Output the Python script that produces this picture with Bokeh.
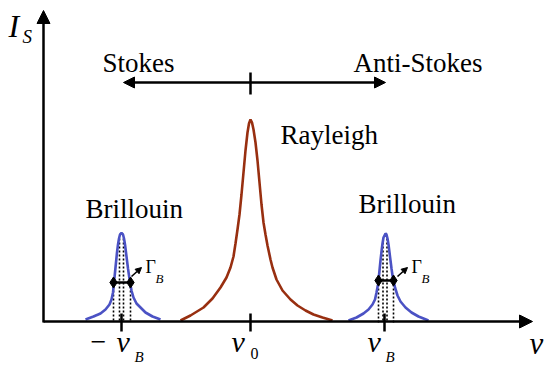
from bokeh.plotting import figure
from bokeh.models import Range1d, Arrow, NormalHead
from bokeh.core.properties import value
from bokeh.embed import file_html
from bokeh.resources import INLINE

# ---- data (schematic units) ----
ray_x = [180, 190, 203, 212, 220, 226, 230, 233, 235, 237, 239, 241, 243, 245, 247, 248.5, 250,
         251.5, 253, 255, 257, 259, 261, 263, 265, 267, 270, 272, 276, 282, 290, 297, 305, 313, 322, 332]
ray_i = [2, 7, 15, 24, 35, 45, 55, 66, 79, 93, 108, 128, 150, 172, 190, 199, 203,
         200, 193, 180, 162, 140, 118, 100, 88, 77, 63, 55, 43, 32, 23, 17, 12, 8, 5, 2]

bl_x = [85, 93, 100, 105, 109, 111, 112.5, 113.5, 114.5, 115.5, 116.5, 117.5, 118.5, 119.5, 121,
        122.5, 123.5, 124.5, 125.5, 126.5, 127.5, 128.5, 129.5, 131, 133, 136, 140, 145, 152, 160]
bl_i = [3, 6, 9, 13, 18, 23, 30, 40, 50, 60, 70, 78, 84, 88, 89.5,
        88, 84, 78, 70, 62, 54, 47, 40, 32, 25, 19, 15, 10, 6, 3]

br_x = [348, 356, 363, 368, 372, 374.5, 376, 377.5, 378, 379, 380, 381, 382, 383, 385,
        386, 387, 388, 389, 390, 391, 392, 393, 394.5, 397, 400, 405, 411, 418, 428]
br_i = [2, 5, 9, 13, 18, 23, 30, 38, 42, 52, 62, 71, 79, 85, 89,
        88, 84, 78, 70, 62, 54, 47, 42, 35, 27, 21, 15, 10, 6, 2]

tick_x = [121, 250, 384]
tick_main = ["ν", "ν", "ν"]
tick_sub = ["B", "0", "B"]

half_left = [113, 130]
half_right = [378, 393]
half_i = [40, 42]
center_left = [119, 123]
center_right = [382.5, 386.5]
center_top = 84

FONT = value("Liberation Serif")
BLACK = "black"

p = figure(width=550, height=370, output_backend="svg", toolbar_location=None,
           x_range=Range1d(0, 550), y_range=Range1d(-48, 322), min_border=0)
p.axis.visible = False
p.grid.visible = False
p.outline_line_color = None
p.background_fill_color = "white"
p.border_fill_color = "white"

# axes with arrows
p.add_layout(Arrow(end=NormalHead(size=13, fill_color=BLACK, line_color=BLACK),
                   x_start=43, y_start=0, x_end=43, y_end=312, line_width=2.5, line_color=BLACK))
p.add_layout(Arrow(end=NormalHead(size=13, fill_color=BLACK, line_color=BLACK),
                   x_start=43, y_start=1, x_end=532, y_end=1, line_width=2.5, line_color=BLACK))

# Stokes / Anti-Stokes double arrow
p.add_layout(Arrow(start=NormalHead(size=11, fill_color=BLACK, line_color=BLACK),
                   end=NormalHead(size=11, fill_color=BLACK, line_color=BLACK),
                   x_start=123, y_start=240, x_end=385, y_end=240, line_width=2.5, line_color=BLACK))
p.segment(x0=[250], y0=[228], x1=[250], y1=[250], line_width=2.5, line_color=BLACK)

# x ticks
p.segment(x0=tick_x, y0=[9] * 3, x1=tick_x, y1=[-9] * 3, line_width=2.5, line_color=BLACK)

# dotted guides
for hx, hi, cx in [(half_left, half_i[0], center_left), (half_right, half_i[1], center_right)]:
    p.segment(x0=hx, y0=[hi, hi], x1=hx, y1=[0, 0], line_width=1.6, line_color=BLACK, line_dash="2 2")
    p.segment(x0=cx, y0=[center_top] * 2, x1=cx, y1=[0, 0], line_width=1.6, line_color=BLACK,
              line_dash="2 2")

# curves
p.line(ray_x, ray_i, line_width=2.6, line_color="#982f10")
p.line(bl_x, bl_i, line_width=2.6, line_color="#4b52c4")
p.line(br_x, br_i, line_width=2.6, line_color="#4b52c4")

# half width markers
for hx, hi in [(half_left, half_i[0]), (half_right, half_i[1])]:
    p.line(hx, [hi, hi], line_width=2.5, line_color=BLACK)
    p.scatter(hx, [hi, hi], marker="diamond", size=11, fill_color=BLACK, line_color=BLACK)

# Gamma arrows
for x0, x1 in [(131, 141), (397, 407)]:
    p.add_layout(Arrow(end=NormalHead(size=6, fill_color=BLACK, line_color=BLACK),
                       x_start=x0, y_start=46, x_end=x1, y_end=55, line_width=1.6, line_color=BLACK))

def txt(x, y, t, size, style="normal", align="left"):
    # the svg text is drawn a little low: lift it by ~0.3 em
    y = y + 0.3 * size
    p.text(x=[x], y=[y], text=[t], text_font=FONT, text_font_size=f"{size}px", text_font_style=style,
           text_baseline="alphabetic", text_align=align, text_color=BLACK)

txt(145, 50, "Γ", 18)
txt(155, 40, "B", 13, "italic")
txt(411, 50, "Γ", 18)
txt(421, 40, "B", 13, "italic")

txt(102, 251, "Stokes", 27)
txt(353, 251, "Anti-Stokes", 27)
txt(280, 179, "Rayleigh", 27)
txt(85, 105, "Brillouin", 27)
txt(358, 110, "Brillouin", 27)

# axis labels
txt(8, 287, "I", 32, "italic")
txt(22, 280, "S", 19, "italic")
txt(529, -30, "ν", 31, "italic")

# tick labels
txt(90, -28, "−", 28)
txt(116, -28, tick_main[0], 30, "italic")
txt(134, -39, tick_sub[0], 15, "italic")
txt(231, -28, tick_main[1], 30, "italic")
txt(250, -36, tick_sub[1], 16)
txt(367, -28, tick_main[2], 30, "italic")
txt(385, -39, tick_sub[2], 15, "italic")

open("out.html", "w").write(file_html(p, INLINE))
